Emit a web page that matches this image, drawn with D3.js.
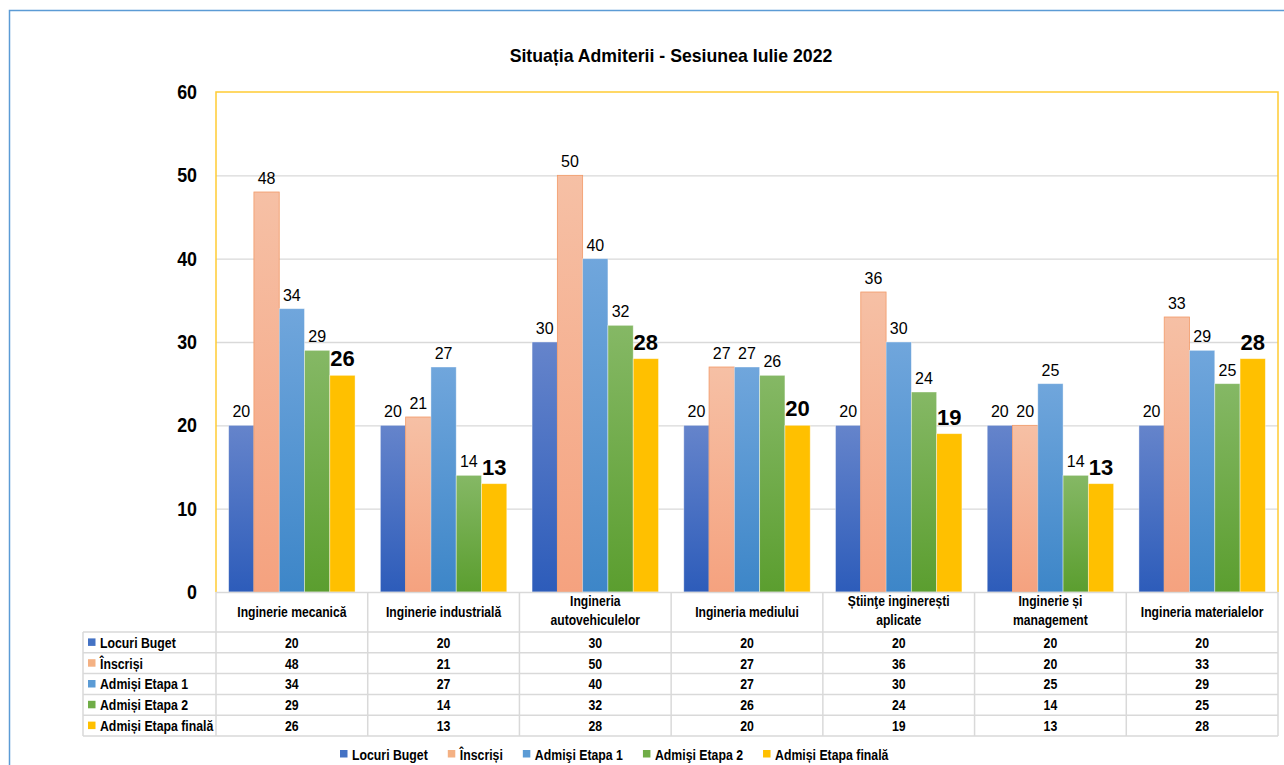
<!DOCTYPE html>
<html>
<head>
<meta charset="utf-8">
<script src="https://cdn.jsdelivr.net/npm/d3@7"></script>
<style>
  body { margin: 0; background: #fff; }
  svg text { font-family: "Liberation Sans", Arial, sans-serif; }
</style>
</head>
<body>
<div id="chart"></div>
<script>
const categories = [
  "Inginerie mecanică",
  "Inginerie industrială",
  "Ingineria\nautovehiculelor",
  "Ingineria mediului",
  "Știinţe inginerești\naplicate",
  "Inginerie și\nmanagement",
  "Ingineria materialelor"
]
const seriesNames = ["Locuri Buget", "Înscriși", "Admiși Etapa 1", "Admiși Etapa 2", "Admiși Etapa finală"]
const legendNames = ["Locuri Buget", "Înscriși", "Admişi Etapa 1", "Admişi Etapa 2", "Admiși Etapa finală"]
const locuriBuget = [20, 20, 30, 20, 20, 20, 20]
const inscrisi = [48, 21, 50, 27, 36, 20, 33]
const admisiEtapa1 = [34, 27, 40, 27, 30, 25, 29]
const admisiEtapa2 = [29, 14, 32, 26, 24, 14, 25]
const admisiFinala = [26, 13, 28, 20, 19, 13, 28]
const yTicks = [0, 10, 20, 30, 40, 50, 60]

const seriesValues = [locuriBuget, inscrisi, admisiEtapa1, admisiEtapa2, admisiFinala]

const W = 1284, H = 765
const PLOT = { LEFT: 216, RIGHT: 1278, TOP: 92, BOTTOM: 592 }
const TABLE_LEFT = 83
const HEADER_BOTTOM = 632
const ROW_H = 20.8
const NARROW = 0.82 // fake "Arial Narrow" by squeezing the glyphs

// legend swatch colour, gradient top, gradient bottom
const colors = [
  { key: "#4472c4", top: "#6584cb", bottom: "#2d5cba" },
  { key: "#f4b183", top: "#f6c0a5", bottom: "#f5a27f" },
  { key: "#5b9bd5", top: "#70a6dc", bottom: "#3d86c8" },
  { key: "#70ad47", top: "#85b865", bottom: "#5b9e2f" },
  { key: "#ffc000", top: "#ffc000", bottom: "#ffc000" }
]

const svg = d3.select("#chart")
              .append("svg")
              .attr("width", W)
              .attr("height", H)

// bold narrow text placed at (x, y)
function narrowText(parent, x, y, txt, size, anchor) {
  return parent.append("text")
               .attr("transform", `translate(${x}, ${y}) scale(${NARROW}, 1)`)
               .attr("text-anchor", anchor || "start")
               .attr("font-size", size)
               .attr("font-weight", "bold")
               .attr("fill", "#000")
               .text(txt)
}

const defs = svg.append("defs")
colors.forEach((c, i) => {
  const g = defs.append("linearGradient")
                .attr("id", "grad" + i)
                .attr("x1", 0).attr("y1", 0)
                .attr("x2", 0).attr("y2", 1)
  g.append("stop").attr("offset", "0%").attr("stop-color", c.top)
  g.append("stop").attr("offset", "100%").attr("stop-color", c.bottom)
})

// outer chart frame
svg.append("rect")
   .attr("x", 9.5).attr("y", 10.5)
   .attr("width", W + 20).attr("height", H + 20)
   .attr("fill", "none")
   .attr("stroke", "#5b9bd5")
   .attr("stroke-width", 1.5)

svg.append("text")
   .attr("x", 671)
   .attr("y", 62)
   .attr("text-anchor", "middle")
   .attr("font-size", 17.7)
   .attr("font-weight", "bold")
   .text("Situația Admiterii - Sesiunea Iulie 2022")

const x = d3.scaleBand()
            .domain(categories)
            .range([PLOT.LEFT, PLOT.RIGHT])

const xInner = d3.scaleBand()
                 .domain(d3.range(seriesNames.length))
                 .range([0, x.bandwidth()])
                 .paddingInner(0)
                 .paddingOuter(0.5)

const y = d3.scaleLinear()
            .domain([0, 60])
            .range([PLOT.BOTTOM, PLOT.TOP])

// gridlines
svg.append("g")
   .attr("transform", `translate(${PLOT.LEFT}, 0)`)
   .call(d3.axisLeft(y).tickValues(yTicks.filter(t => t > 0 && t < 60))
           .tickSize(-(PLOT.RIGHT - PLOT.LEFT)).tickFormat(""))
   .call(g => g.select(".domain").remove())
   .call(g => g.selectAll("line").attr("stroke", "#d9d9d9").attr("stroke-width", 1.3))

// y axis labels
const Y_SQUEEZE = 0.87
svg.append("g")
   .attr("transform", `translate(${PLOT.LEFT}, 0)`)
   .call(d3.axisLeft(y).tickValues(yTicks).tickSize(0).tickPadding(19))
   .call(g => g.select(".domain").remove())
   .call(g => g.selectAll("text")
               .attr("x", -19 / Y_SQUEEZE)
               .attr("transform", `scale(${Y_SQUEEZE}, 1)`)
               .attr("font-size", 20.5)
               .attr("font-weight", "bold")
               .attr("fill", "#000")
               .style("font-family", null))

// bars
const flat = []
seriesValues.forEach((vals, s) => {
  vals.forEach((v, c) => flat.push({ s, c, v }))
})

svg.append("g")
   .selectAll("rect")
   .data(flat)
   .enter()
   .append("rect")
   .attr("x", d => x(categories[d.c]) + xInner(d.s))
   .attr("y", d => y(d.v))
   .attr("width", xInner.bandwidth())
   .attr("height", d => y(0) - y(d.v))
   .attr("fill", d => `url(#grad${d.s})`)
   .attr("stroke", d => d.s === 1 ? "#f29a68" : "rgba(255,255,255,0.5)")
   .attr("stroke-width", 0.8)

// data labels
svg.append("g")
   .selectAll("text")
   .data(flat)
   .enter()
   .append("text")
   .attr("x", d => x(categories[d.c]) + xInner(d.s) + xInner.bandwidth() / 2)
   .attr("y", d => y(d.v) - (d.s === 4 ? 9 : 8))
   .attr("text-anchor", "middle")
   .attr("font-size", d => d.s === 4 ? 22 : 16)
   .attr("font-weight", d => d.s === 4 ? "bold" : "normal")
   .attr("fill", "#000")
   .text(d => d.v)

// plot frame (yellow)
svg.append("path")
   .attr("d", `M${PLOT.LEFT},${PLOT.BOTTOM}V${PLOT.TOP}H${PLOT.RIGHT}V${PLOT.BOTTOM}`)
   .attr("fill", "none")
   .attr("stroke", "#ffcc33")
   .attr("stroke-width", 1.5)

// data table
const table = svg.append("g")
const rowTop = i => HEADER_BOTTOM + i * ROW_H
const tableBottom = rowTop(seriesNames.length)
const gridColor = "#d9d9d9"

table.append("line")
     .attr("x1", PLOT.LEFT).attr("x2", PLOT.RIGHT)
     .attr("y1", PLOT.BOTTOM + 0.5).attr("y2", PLOT.BOTTOM + 0.5)
     .attr("stroke", gridColor).attr("stroke-width", 1.5)

d3.range(seriesNames.length + 1).forEach(i => {
  table.append("line")
       .attr("x1", TABLE_LEFT).attr("x2", PLOT.RIGHT)
       .attr("y1", rowTop(i)).attr("y2", rowTop(i))
       .attr("stroke", gridColor).attr("stroke-width", 1.5)
})

table.append("line")
     .attr("x1", TABLE_LEFT).attr("x2", TABLE_LEFT)
     .attr("y1", HEADER_BOTTOM).attr("y2", tableBottom)
     .attr("stroke", gridColor).attr("stroke-width", 1.5)

categories.concat([null]).forEach((c, i) => {
  const xx = i < categories.length ? x(c) : PLOT.RIGHT
  table.append("line")
       .attr("x1", xx).attr("x2", xx)
       .attr("y1", PLOT.BOTTOM).attr("y2", tableBottom)
       .attr("stroke", gridColor).attr("stroke-width", 1.5)
})

// category headers
categories.forEach(c => {
  const lines = c.split("\n")
  lines.forEach((l, j) => {
    narrowText(table, x(c) + x.bandwidth() / 2,
               lines.length === 1 ? 617 : 606 + j * 18.5, l, 14.8, "middle")
  })
})

// row labels and values
seriesNames.forEach((name, s) => {
  const cy = rowTop(s) + ROW_H / 2
  table.append("rect")
       .attr("x", 88).attr("y", cy - 4)
       .attr("width", 7.5).attr("height", 7.5)
       .attr("fill", colors[s].key)
  narrowText(table, 100, cy + 5.3, name, 15)
  seriesValues[s].forEach((v, c) => {
    narrowText(table, x(categories[c]) + x.bandwidth() / 2, cy + 5.3, v, 15, "middle")
  })
})

// bottom legend
const legend = svg.append("g")
let lx = 340
legendNames.forEach((name, s) => {
  legend.append("rect")
        .attr("x", lx).attr("y", 750)
        .attr("width", 7.5).attr("height", 7.5)
        .attr("fill", colors[s].key)
  const t = narrowText(legend, lx + 12, 759.5, name, 15)
  lx += 12 + t.node().getComputedTextLength() * NARROW + 20
})
</script>
</body>
</html>
